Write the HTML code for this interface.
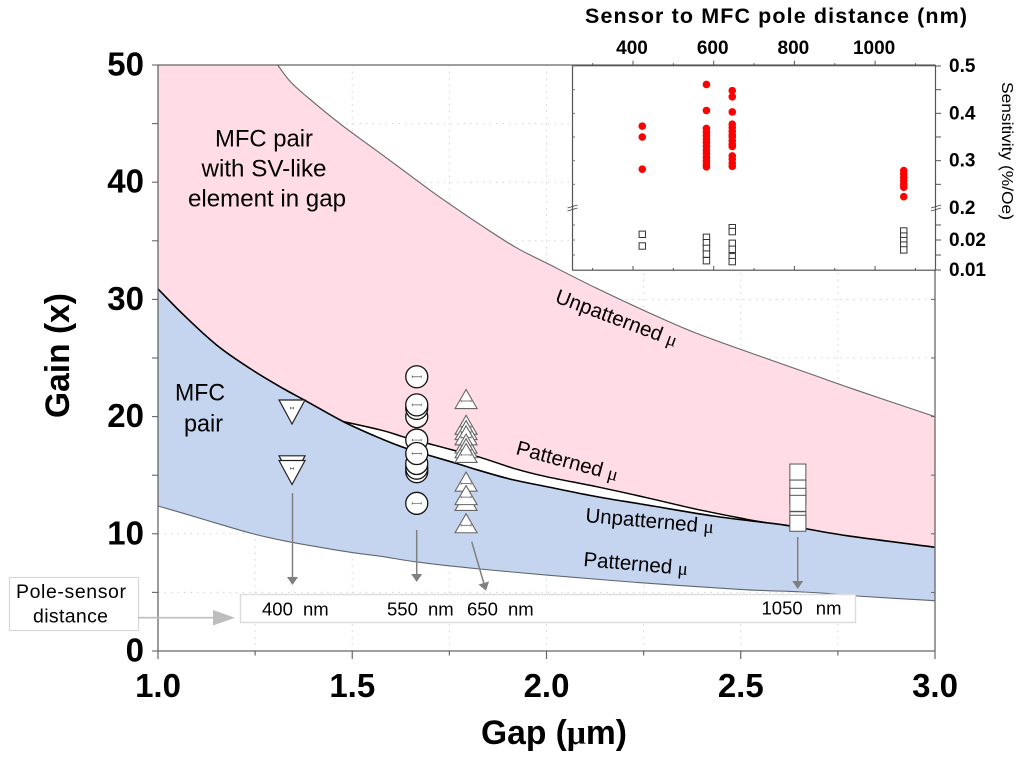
<!DOCTYPE html>
<html lang="en">
<head>
<meta charset="utf-8">
<title>Gain vs gap chart</title>
<style>
html,body{margin:0;padding:0;background:#fff;width:1024px;height:759px;overflow:hidden}
svg{display:block;font-family:"Liberation Sans",sans-serif}
.mu{font-family:"Liberation Serif",serif}
</style>
</head>
<body>
<svg id="chart" xmlns="http://www.w3.org/2000/svg" width="1024" height="759" viewBox="0 0 1024 759">
  <g id="grid"></g>
  <g id="regions"></g>
  <g id="mainAxes"></g>
  <g id="inset"></g>

  <rect x="240.5" y="594.5" width="615" height="28" fill="#fff" stroke="#dcdcdc" stroke-width="1.4"/>
  <g id="arrows"></g>
  <g id="markers"></g>

  <text transform="translate(69,418) rotate(-90)" font-size="34" font-weight="bold" textLength="125" lengthAdjust="spacingAndGlyphs">Gain (x)</text>
  <text x="481" y="744" font-size="34" font-weight="bold" textLength="146" lengthAdjust="spacingAndGlyphs">Gap (<tspan class="mu">μ</tspan>m)</text>
  <text x="585" y="23" font-size="21.5" font-weight="bold" textLength="382" lengthAdjust="spacing">Sensor to MFC pole distance (nm)</text>
  <text transform="translate(1002,82) rotate(90)" font-size="15.5" textLength="138" lengthAdjust="spacingAndGlyphs">Sensitivity (%/Oe)</text>

  <g font-size="24.5" fill="#000">
    <text x="215" y="146.7" textLength="98" lengthAdjust="spacingAndGlyphs">MFC pair</text>
    <text x="201.5" y="176.7" textLength="125" lengthAdjust="spacingAndGlyphs">with SV-like</text>
    <text x="188" y="206.7" textLength="158" lengthAdjust="spacingAndGlyphs">element in gap</text>
  </g>
  <g font-size="24.5" fill="#000">
    <text x="175" y="400.7" textLength="50" lengthAdjust="spacingAndGlyphs">MFC</text>
    <text x="184" y="431.7" textLength="39" lengthAdjust="spacingAndGlyphs">pair</text>
  </g>

  <text transform="translate(554,302) rotate(20.5)" font-size="20.5">Unpatterned <tspan class="mu" font-size="19">μ</tspan></text>
  <text transform="translate(515,454) rotate(15)" font-size="20.5">Patterned <tspan class="mu" font-size="19">μ</tspan></text>
  <text transform="translate(585,522) rotate(5)" font-size="20.5">Unpatterned <tspan class="mu" font-size="19">μ</tspan></text>
  <text transform="translate(583,566) rotate(5)" font-size="20.5">Patterned <tspan class="mu" font-size="19">μ</tspan></text>

  <g>
    <rect x="9.5" y="577.5" width="129" height="53" fill="#fff" stroke="#d8d8d8" stroke-width="1.2"/>
    <text x="16" y="598" font-size="19.5" textLength="110" lengthAdjust="spacing">Pole-sensor</text>
    <text x="33" y="622.5" font-size="19.5" textLength="75" lengthAdjust="spacing">distance</text>
    <line x1="138" y1="617.7" x2="216" y2="617.7" stroke="#bdbdbd" stroke-width="1.6"/>
    <polygon points="213,610 235,617.7 213,625.5" fill="#bdbdbd"/>
  </g>

  <g font-size="18.5" word-spacing="5">
    <text x="262" y="615.5">400 nm</text>
    <text x="387" y="615.5">550 nm</text>
    <text x="467" y="615.5">650 nm</text>
    <text x="761.5" y="614.5" word-spacing="8">1050 nm</text>
  </g>
</svg>

<script>
// ---- Curve data (gap in um, gain in x) ----
const upperUnpatGap  = [1.308,1.34,1.383,1.468,1.554,1.64,1.722,1.837,1.923,2.009,2.129,2.258,2.387,2.558,2.687,2.798,3.0];
const upperUnpatGain = [50,48.6,47.3,45.0,42.9,40.8,38.8,36.2,34.4,32.95,30.95,28.95,27.1,25.05,23.55,22.25,20.0];

const lowerUnpatGap  = [1.0,1.065,1.151,1.237,1.322,1.383,1.477,1.563,1.64,1.769,1.829,1.915,2.0,2.129,2.258,2.429,2.558,2.627,2.773,3.0];
const lowerUnpatGain = [30.9,28.7,26.1,24.1,22.4,21.3,19.57,18.28,17.28,16.0,15.38,14.6,14.03,13.17,12.46,11.52,10.98,10.67,9.84,8.85];

const upperPatGap  = [1.477,1.58,1.631,1.7,1.769,1.829,1.915,2.0,2.129,2.258,2.387,2.515,2.566];
const upperPatGain = [19.57,18.8,18.28,17.66,17.06,16.53,15.59,14.87,14.02,13.08,12.09,11.24,10.95];

const lowerPatGap  = [1.0,1.065,1.151,1.237,1.322,1.408,1.494,1.58,1.666,1.829,2.0,2.241,2.498,2.645,2.719,2.798,3.0];
const lowerPatGain = [12.37,11.75,10.9,10.07,9.42,8.9,8.43,8.05,7.6,7.0,6.48,5.83,5.26,5.06,4.92,4.69,4.29];

// ---- Main marker data ----
const invTriangleGap = 1.345;
const invTriangleGain = [20.56,15.8,15.4];
const circleGap = 1.666;
const circleGain = [23.4,20.0,20.7,21.0,15.3,15.6,16.0,18.0,16.85,12.6];
const triangleGap = 1.793;
const triangleGain = [21.5,19.3,18.85,18.4,17.7,17.3,16.9,14.45,12.8,13.3,10.9];
const squareGap = 2.647;
const squareGain = [15.27,13.9,13.2,12.6,11.2,10.9];

// ---- Axis ticks and labels ----
const mainXTicks = [1.0,1.25,1.5,1.75,2.0,2.25,2.5,2.75,3.0];
const mainXLabels = ['1.0','1.5','2.0','2.5','3.0'];
const mainXLabelValues = [1.0,1.5,2.0,2.5,3.0];
const mainYTicks = [0,5,10,15,20,25,30,35,40,45,50];
const mainYLabels = ['0','10','20','30','40','50'];
const mainYLabelValues = [0,10,20,30,40,50];

// ---- Inset data (distance in nm, sensitivity in %/Oe) ----
const sensorDistances = [423,582,646,1071];
const freeLayerSensitivity = [
  [0.373,0.35,0.282],
  [0.461,0.406,0.368,0.36,0.353,0.345,0.338,0.33,0.322,0.315,0.307,0.30,0.293,0.287],
  [0.448,0.435,0.403,0.377,0.37,0.362,0.355,0.35,0.342,0.335,0.33,0.31,0.303,0.295,0.288],
  [0.279,0.272,0.265,0.258,0.25,0.244,0.224]
];
const referenceSensitivity = [
  [0.0219,0.018],
  [0.0209,0.0191,0.0172,0.0153,0.0131],
  [0.0241,0.0228,0.0189,0.0169,0.0144,0.0128],
  [0.023,0.0213,0.0198,0.0183,0.0167]
];
const insetXTicks = [300,400,500,600,700,800,900,1000,1100];
const insetXLabels = ['400','600','800','1000'];
const insetXLabelValues = [400,600,800,1000];
const insetUpperTicks = [0.25,0.3,0.35,0.4,0.45,0.5];
const insetUpperLabels = ['0.3','0.4','0.5'];
const insetUpperLabelValues = [0.3,0.4,0.5];
const insetLowerTicks = [0.01,0.015,0.02,0.025];
const insetLowerLabels = ['0.01','0.02'];
const insetLowerLabelValues = [0.01,0.02];

// ---- Scales ----
const xMain = g => 158 + (g - 1) * 388.5;
const yMain = v => 651 - v * 11.72;
const xInset = d => 633 + (d - 400) * 0.4035;
const yInsetUpper = s => 208 - (s - 0.2) * (142 / 0.3);
const yInsetLower = s => 270 - (s - 0.01) * 3000;

const NS = 'http://www.w3.org/2000/svg';
function make(parent, tag, attrs) {
  const el = document.createElementNS(NS, tag);
  for (const k in attrs) el.setAttribute(k, attrs[k]);
  parent.appendChild(el);
  return el;
}
function pts(gaps, gains) {
  return gaps.map((g, i) => [xMain(g), yMain(gains[i])]);
}
// Catmull-Rom through the points, returned as cubic segments (without a leading move)
function smoothSegs(p) {
  let d = '';
  for (let i = 0; i < p.length - 1; i++) {
    const p0 = p[Math.max(i - 1, 0)], p1 = p[i], p2 = p[i + 1], p3 = p[Math.min(i + 2, p.length - 1)];
    const c1x = p1[0] + (p2[0] - p0[0]) / 6, c1y = p1[1] + (p2[1] - p0[1]) / 6;
    const c2x = p2[0] - (p3[0] - p1[0]) / 6, c2y = p2[1] - (p3[1] - p1[1]) / 6;
    d += 'C' + c1x.toFixed(1) + ' ' + c1y.toFixed(1) + ' ' + c2x.toFixed(1) + ' ' + c2y.toFixed(1) + ' ' + p2[0].toFixed(1) + ' ' + p2[1].toFixed(1);
  }
  return d;
}
function openPath(p) {
  return 'M' + p[0][0].toFixed(1) + ' ' + p[0][1].toFixed(1) + smoothSegs(p);
}
function joinPath(p) {
  return 'L' + p[0][0].toFixed(1) + ' ' + p[0][1].toFixed(1) + smoothSegs(p);
}

// ---- Grid ----
const gridG = document.getElementById('grid');
mainXTicks.slice(1, -1).forEach(t => {
  const el = make(gridG, 'line', {x1: xMain(t), x2: xMain(t), y1: yMain(50), y2: yMain(0), stroke: '#d4d4d4', 'stroke-width': 1, 'stroke-dasharray': '1.5 5'});
  
  
});
mainYTicks.slice(1, -1).forEach(t => {
  const el = make(gridG, 'line', {x1: xMain(1), x2: xMain(3), y1: yMain(t), y2: yMain(t), stroke: '#d4d4d4', 'stroke-width': 1, 'stroke-dasharray': '1.5 5'});
  
  
});

// ---- Regions ----
const regionG = document.getElementById('regions');
const upperPts = pts(upperUnpatGap, upperUnpatGain);
const lowerUnpatPts = pts(lowerUnpatGap, lowerUnpatGain);
const upperPatPts = pts(upperPatGap, upperPatGain);
const lowerPatPts = pts(lowerPatGap, lowerPatGain);

const pink = make(regionG, 'path', {
  d: 'M' + xMain(1) + ' ' + yMain(50) + joinPath(upperPts) + joinPath(lowerUnpatPts.slice().reverse()) + 'Z',
  fill: '#ffdce6'
});



const wedgeLower = lowerUnpatPts.filter(p => p[0] >= upperPatPts[0][0] && p[0] <= upperPatPts[upperPatPts.length - 1][0]);
const wedge = make(regionG, 'path', {
  d: openPath(upperPatPts) + joinPath(wedgeLower.slice().reverse()) + 'Z',
  fill: '#ffffff'
});



const blue = make(regionG, 'path', {
  d: openPath(lowerUnpatPts) + joinPath(lowerPatPts.slice().reverse()) + 'Z',
  fill: '#c5d5ef'
});



const lineUpper = make(regionG, 'path', {d: openPath(upperPts), fill: 'none', stroke: '#666', 'stroke-width': 1.1});



const lineLowerPat = make(regionG, 'path', {d: openPath(lowerPatPts), fill: 'none', stroke: '#5f6670', 'stroke-width': 1.1});



const lineUpperPat = make(regionG, 'path', {d: openPath(upperPatPts), fill: 'none', stroke: '#000', 'stroke-width': 1.5});



const lineLowerUnpat = make(regionG, 'path', {d: openPath(lowerUnpatPts), fill: 'none', stroke: '#000', 'stroke-width': 1.6});



// ---- Main axes ----
const axesG = document.getElementById('mainAxes');
const frame = make(axesG, 'path', {
  d: 'M' + xMain(1) + ' ' + yMain(50) + 'H' + xMain(3) + 'V' + yMain(0) + 'H' + xMain(1) + 'Z',
  fill: 'none', stroke: '#666', 'stroke-width': 1.3
});



mainXTicks.forEach(t => {
  const major = mainXLabelValues.includes(t);
  const el = make(axesG, 'line', {x1: xMain(t), x2: xMain(t), y1: yMain(0), y2: yMain(0) + (major ? 8 : 4.5), stroke: '#666', 'stroke-width': 1.2});
  
  
});
mainYTicks.forEach(t => {
  const el = make(axesG, 'line', {x1: xMain(1) - 6, x2: xMain(1), y1: yMain(t), y2: yMain(t), stroke: '#666', 'stroke-width': 1.1});
  
  
  if (t > 0 && t < 50 && yMain(t) > 270) {
    const r = make(axesG, 'line', {x1: xMain(3) - 4, x2: xMain(3), y1: yMain(t), y2: yMain(t), stroke: '#666', 'stroke-width': 1});
    
    
  }
});
mainXLabels.forEach((lab, i) => {
  const el = make(axesG, 'text', {x: xMain(mainXLabelValues[i]), y: 697, 'text-anchor': 'middle', 'font-size': 33, 'font-weight': 'bold'});
  el.textContent = lab;
  
  
});
mainYLabels.forEach((lab, i) => {
  const el = make(axesG, 'text', {x: 144, y: yMain(mainYLabelValues[i]) + 10.5, 'text-anchor': 'end', 'font-size': 33, 'font-weight': 'bold'});
  el.textContent = lab;
  
  
});

// ---- Inset ----
const insetG = document.getElementById('inset');
const insetBox = make(insetG, 'rect', {x: 572.5, y: 65.7, width: 363, height: 204.5, fill: '#fff', stroke: '#555', 'stroke-width': 1.2});



insetXTicks.forEach(t => {
  const major = insetXLabelValues.includes(t);
  const top = make(insetG, 'line', {x1: xInset(t), x2: xInset(t), y1: 65.7, y2: 65.7 + (major ? -5 : -2.5), stroke: '#555', 'stroke-width': 1});
  
  
  const bot = make(insetG, 'line', {x1: xInset(t), x2: xInset(t), y1: 270, y2: 270 - (major ? 4 : 2), stroke: '#555', 'stroke-width': 1});
  
  
});
insetXLabels.forEach((lab, i) => {
  const el = make(insetG, 'text', {x: xInset(insetXLabelValues[i]) - 1, y: 54, 'text-anchor': 'middle', 'font-size': 19, 'font-weight': 'bold'});
  el.textContent = lab;
  
  
});
function insetYTick(y) {
  const right = make(insetG, 'line', {x1: 936, x2: 941, y1: y, y2: y, stroke: '#555', 'stroke-width': 1});
  
  
  const left = make(insetG, 'line', {x1: 572.5, x2: 575, y1: y, y2: y, stroke: '#777', 'stroke-width': 1});
  
  
}
insetUpperTicks.forEach(t => insetYTick(yInsetUpper(t)));
insetLowerTicks.forEach(t => insetYTick(yInsetLower(t)));
function insetYLabel(lab, y) {
  const el = make(insetG, 'text', {x: 949, y: y + 6, 'font-size': 19, 'font-weight': 'bold'});
  el.textContent = lab;
  
  
}
insetUpperLabels.forEach((lab, i) => insetYLabel(lab, yInsetUpper(insetUpperLabelValues[i])));
insetLowerLabels.forEach((lab, i) => insetYLabel(lab, yInsetLower(insetLowerLabelValues[i])));
const breakLabel = make(insetG, 'text', {x: 949, y: 214, 'font-size': 19, 'font-weight': 'bold'});
breakLabel.textContent = '0.2';



[572.5, 936].forEach(x => {
  [-1.5, 1.5].forEach(off => {
    const b = make(insetG, 'line', {x1: x - 5, x2: x + 5, y1: 209.5 + off, y2: 206.5 + off, stroke: '#444', 'stroke-width': 0.9});
    
    
  });
});

sensorDistances.forEach((d, gi) => {
  referenceSensitivity[gi].forEach(s => {
    const el = make(insetG, 'rect', {x: xInset(d) - 3.2, y: yInsetLower(s) - 3.2, width: 6.4, height: 6.4, fill: '#fff', stroke: '#333', 'stroke-width': 1});
    
    
  });
  freeLayerSensitivity[gi].forEach(s => {
    const el = make(insetG, 'circle', {cx: xInset(d), cy: yInsetUpper(s), r: 3.8, fill: '#ff0000'});
    
    
  });
});

// ---- Arrows ----
const arrowG = document.getElementById('arrows');
function arrow(name, x1, y1, x2, y2) {
  const a = Math.atan2(y2 - y1, x2 - x1);
  const hx = x2 - Math.cos(a) * 8, hy = y2 - Math.sin(a) * 8;
  const nx = -Math.sin(a) * 5.5, ny = Math.cos(a) * 5.5;
  const shaft = make(arrowG, 'line', {x1: x1, y1: y1, x2: hx, y2: hy, stroke: '#808080', 'stroke-width': 1.5});
  
  
  const head = make(arrowG, 'polygon', {points: (hx + nx) + ',' + (hy + ny) + ' ' + x2 + ',' + y2 + ' ' + (hx - nx) + ',' + (hy - ny), fill: '#808080'});
  
  
}
arrow('arrow-400nm', 292.5, 493, 292.5, 585);
arrow('arrow-550nm', 416.7, 530, 416.7, 582);
arrow('arrow-650nm', 471.7, 541.7, 486, 590.7);
arrow('arrow-1050nm', 797.7, 537, 797.7, 589);

// ---- Markers ----
const markerG = document.getElementById('markers');
function errorBar(g, cx, cy, half) {
  const path = 'M' + (cx - half) + ' ' + cy + 'H' + (cx + half) +
    'M' + (cx - half) + ' ' + (cy - 1.2) + 'V' + (cy + 1.2) +
    'M' + (cx + half) + ' ' + (cy - 1.2) + 'V' + (cy + 1.2);
  const el = make(g, 'path', {d: path, fill: 'none', stroke: '#555', 'stroke-width': 0.7});
  
  
}
invTriangleGain.forEach(v => {
  const cx = xMain(invTriangleGap), cy = yMain(v);
  const el = make(markerG, 'polygon', {points: (cx - 13) + ',' + (cy - 10) + ' ' + (cx + 13) + ',' + (cy - 10) + ' ' + cx + ',' + (cy + 14), fill: '#fff', stroke: '#222', 'stroke-width': 1.2});
  
  
  errorBar(markerG, cx, cy - 2, 1.5);
});
circleGain.forEach(v => {
  const cx = xMain(circleGap), cy = yMain(v);
  const el = make(markerG, 'circle', {cx: cx, cy: cy, r: 11, fill: '#fff', stroke: '#111', 'stroke-width': 1.3});
  
  
  errorBar(markerG, cx, cy, 4.5);
});
triangleGain.forEach(v => {
  const cx = xMain(triangleGap), cy = yMain(v);
  const el = make(markerG, 'polygon', {points: (cx - 11) + ',' + (cy + 9.5) + ' ' + (cx + 11) + ',' + (cy + 9.5) + ' ' + cx + ',' + (cy - 9.5), fill: '#fff', stroke: '#666', 'stroke-width': 1.1});
  
  
  errorBar(markerG, cx, cy + 2, 5);
});
squareGain.forEach(v => {
  const cx = xMain(squareGap), cy = yMain(v);
  const el = make(markerG, 'rect', {x: cx - 8, y: cy - 8, width: 16, height: 16, fill: '#fff', stroke: '#555', 'stroke-width': 1});
  
  
});
</script>
</body>
</html>
